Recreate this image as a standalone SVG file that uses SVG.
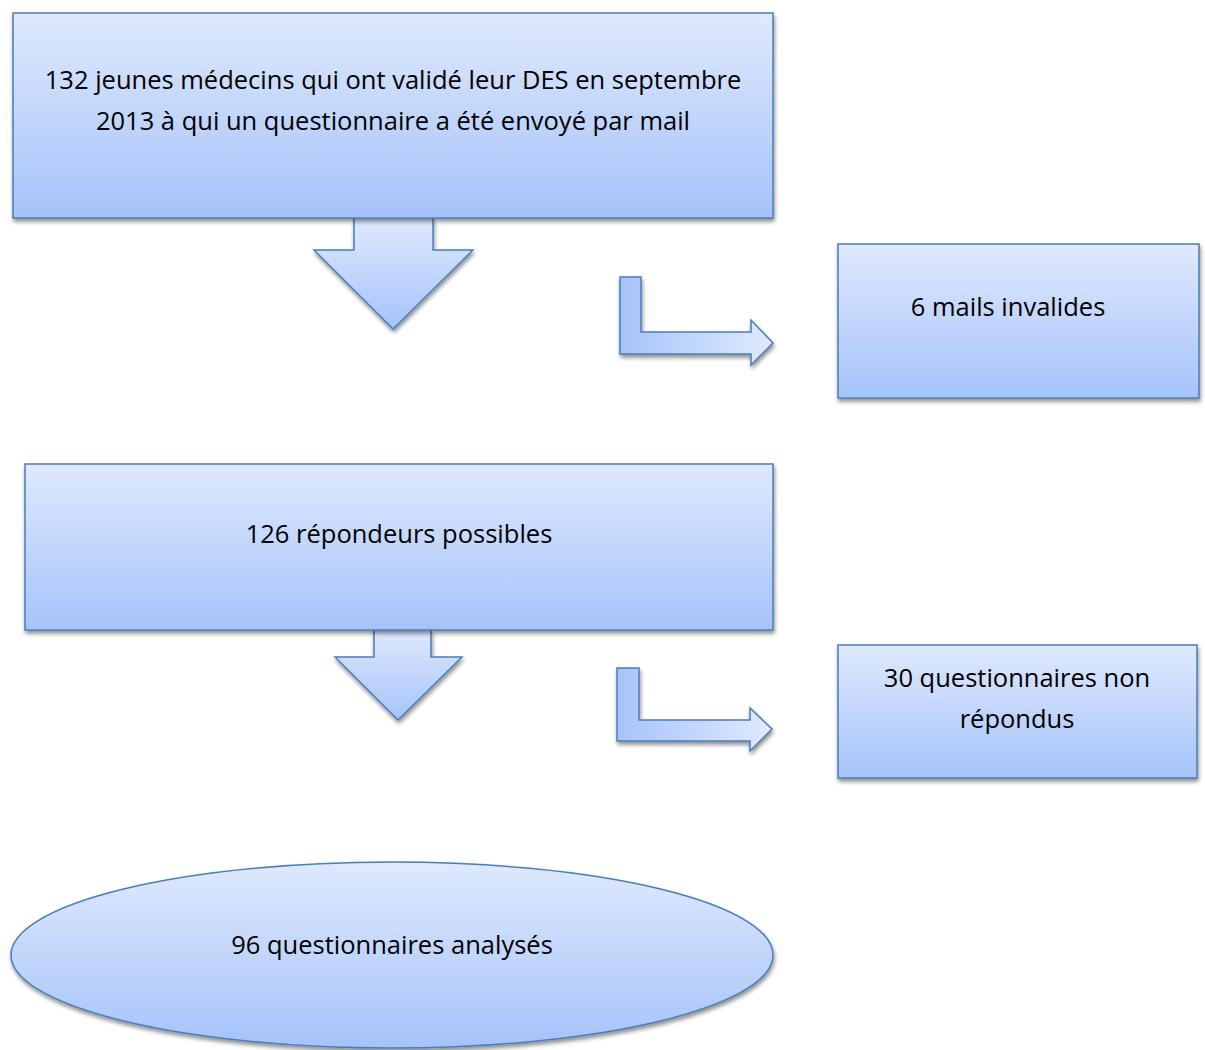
<svg xmlns="http://www.w3.org/2000/svg" width="1205" height="1050" viewBox="0 0 1205 1050">
<defs>
<linearGradient id="gv" x1="0" y1="0" x2="0" y2="1">
<stop offset="0" stop-color="#dfe9fd"/>
<stop offset="1" stop-color="#a5c3fa"/>
</linearGradient>
<linearGradient id="gh" x1="0" y1="0" x2="1" y2="0">
<stop offset="0" stop-color="#a6c4fa"/>
<stop offset="1" stop-color="#e0eafd"/>
</linearGradient>
<filter id="sh" x="-5%" y="-5%" width="112%" height="115%">
<feGaussianBlur in="SourceAlpha" stdDeviation="2"/>
<feOffset dx="1" dy="3" result="b"/>
<feComponentTransfer><feFuncA type="linear" slope="0.45"/></feComponentTransfer>
<feMerge><feMergeNode/><feMergeNode in="SourceGraphic"/></feMerge>
</filter>
</defs>
<style>
.n{fill:url(#gv);stroke:#4a7ebb;stroke-width:1.5;filter:url(#sh)}
.bh{fill:url(#gh);stroke:#4a7ebb;stroke-width:1.5;filter:url(#sh)}
.t{font-family:"Open Sans","Liberation Sans",sans-serif;font-size:25.5px;fill:#000;text-anchor:middle}
</style>
<g id="connectors">
<path class="n" d="M354,218 L354,250 L314,250 L393,329 L473,250 L433,250 L433,218"/>
<path class="bh" d="M620,277 L641,277 L641,332 L751,332 L751,320 L773,343 L751,365 L751,354 L620,354 Z"/>
<path class="n" d="M374,630 L374,657 L335,657 L398,720 L462,657 L431,657 L431,630"/>
<path class="bh" d="M617,668 L639,668 L639,720 L750,720 L750,708 L772,729 L750,751 L750,741 L617,741 Z"/>
</g>
<g id="node1">
<rect class="n" x="13" y="13" width="760" height="205"/>
<text class="t" x="393" y="89">132 jeunes médecins qui ont validé leur DES en septembre</text>
<text class="t" x="393" y="130">2013 à qui un questionnaire a été envoyé par mail</text>
</g>
<g id="node2">
<rect class="n" x="838" y="244" width="361" height="154"/>
<text class="t" x="1008" y="316">6 mails invalides</text>
</g>
<g id="node3">
<rect class="n" x="25" y="464" width="748" height="166"/>
<text class="t" x="399" y="543">126 répondeurs possibles</text>
</g>
<g id="node4">
<rect class="n" x="838" y="645" width="359" height="133"/>
<text class="t" x="1017" y="687">30 questionnaires non</text>
<text class="t" x="1017" y="728">répondus</text>
</g>
<g id="node5">
<ellipse class="n" cx="392" cy="955" rx="381" ry="93"/>
<text class="t" x="392" y="954">96 questionnaires analysés</text>
</g>
</svg>
